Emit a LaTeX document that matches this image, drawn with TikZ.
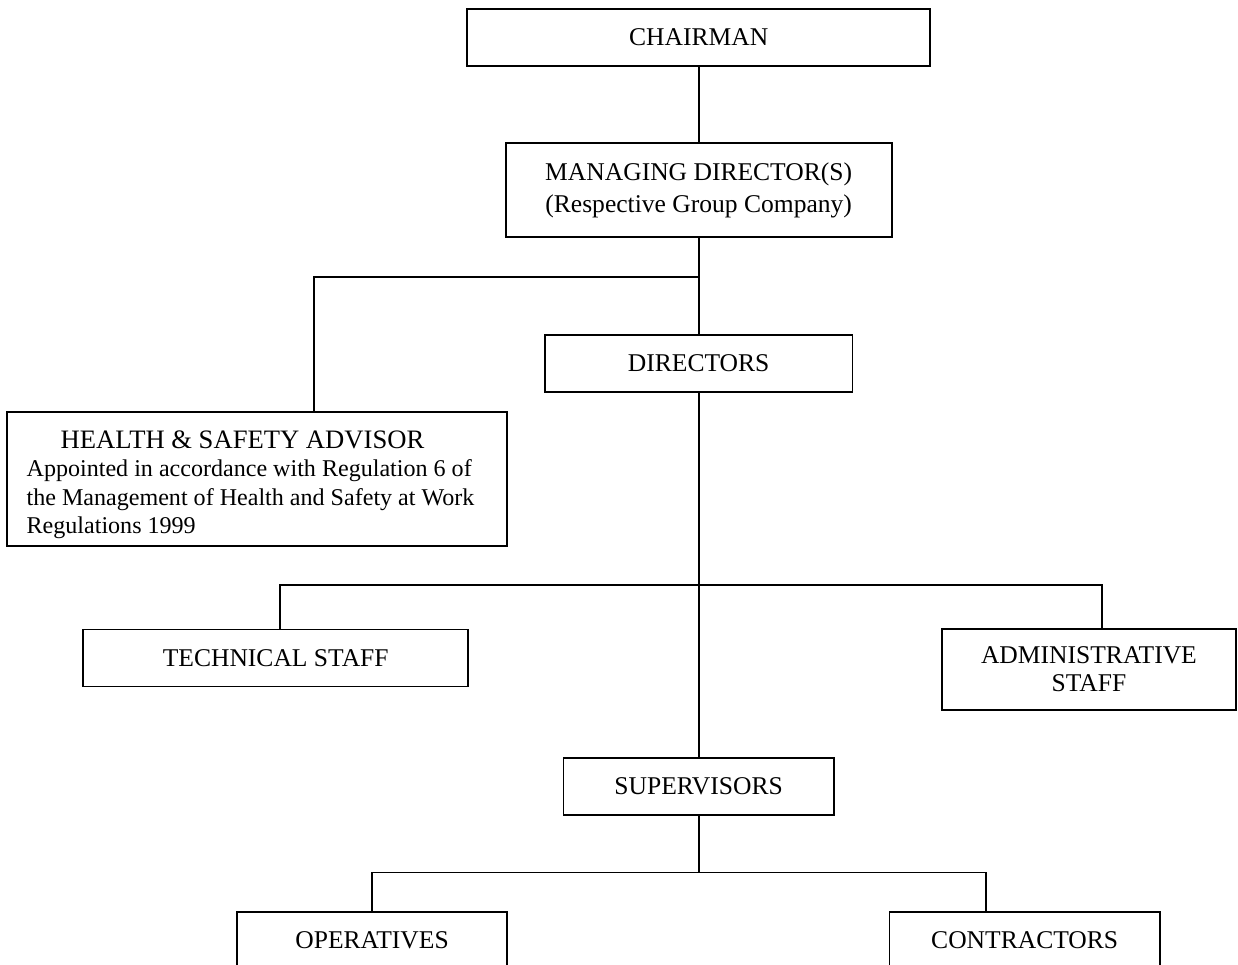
\documentclass[tikz,border=0pt]{standalone}
\usepackage{fontspec}
\setmainfont{Liberation Serif}
\usepackage{tikz}

\begin{document}
\begin{tikzpicture}[
		every node/.style={
			rectangle,
			draw,
			line width=0.8pt,
			align=center,
			minimum height=0.94cm,
			font=\fontsize{12}{13.2}\selectfont
		},
		tie/.style={
			draw=black,
			line width=0.8pt
		}]

		\clip (0,0) rectangle (20.43,-15.91);

		\node[minimum width=7.64cm] at (11.53,-0.62) (chair) {CHAIRMAN};
		\node[below of=chair, node distance=2.52cm, minimum width=6.37cm, minimum height=1.55cm] (md) {MANAGING DIRECTOR(S)\\[1.8pt](Respective Group Company)};
		\node[below of=md, node distance=2.86cm, minimum width=5.08cm] (dir) {DIRECTORS};
		\node[below of=dir, node distance=6.98cm, minimum width=4.46cm] (sup) {SUPERVISORS};

		\node[minimum width=8.25cm, minimum height=2.21cm, align=left, font=\fontsize{11.3}{13.2}\selectfont] at (4.24,-7.90) (hsa) {\rule{0pt}{14pt}\hspace*{16pt}{\fontsize{12.5}{13.2}\selectfont HEALTH \& SAFETY ADVISOR}\\
			Appointed in accordance with Regulation 6 of\\
			the Management of Health and Safety at Work\hspace*{6pt}\mbox{}\\
			Regulations 1999};

		\node[minimum width=6.35cm] at (4.55,-10.86) (tech) {TECHNICAL STAFF};
		\node[minimum width=4.85cm, minimum height=1.34cm] at (17.97,-11.05) (admin) {ADMINISTRATIVE\\STAFF};

		\node[minimum width=4.46cm] at (6.14,-15.52) (oper) {OPERATIVES};
		\node[right of=oper, node distance=10.77cm, minimum width=4.46cm] (contr) {CONTRACTORS};

		%links
		\coordinate (mdsplit) at (md.south |- 0,-4.57);
		\coordinate (dirsplit) at (dir.south |- 0,-9.65);
		\coordinate (supsplit) at (sup.south |- 0,-14.40);

		\draw[tie] (chair.south) -- (md.north);
		\draw[tie] (md.south) -- (dir.north);
		\draw[tie] (mdsplit) -| ([xshift=0.94cm]hsa.north);
		\draw[tie] (dir.south) -- (sup.north);
		\draw[tie] ([xshift=0.07cm]tech.north) |- (dirsplit) -| ([xshift=0.21cm]admin.north);
		\draw[tie] (sup.south) -- (supsplit);
		\draw[tie] (oper.north) |- (supsplit) -| ([xshift=-0.64cm]contr.north);

	\end{tikzpicture}
\end{document}
